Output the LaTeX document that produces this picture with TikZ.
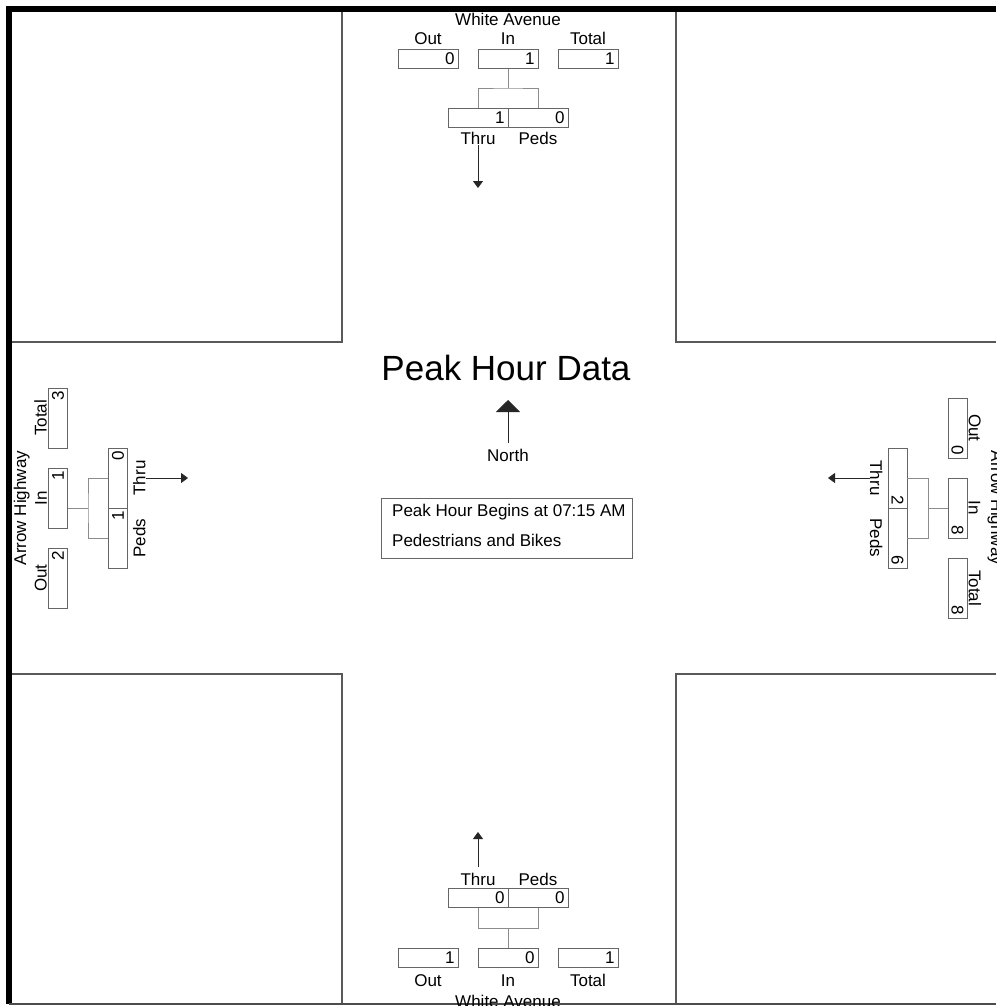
\documentclass[tikz,border=0pt]{standalone}
\usepackage{fontspec}
\setmainfont{Liberation Sans}
\usetikzlibrary{arrows.meta, positioning}
\newcommand{\lblsize}{\fontsize{17}{20}\selectfont}
\tikzset{
  vol/.style={rectangle, draw=black!60, line width=0.9pt, minimum height=19pt,
              text width=53pt, align=right, inner xsep=3.5pt, inner ysep=0pt, font=\lblsize},
  lbl/.style={inner sep=0pt, font=\lblsize},
  wire/.style={draw=black!45, line width=0.9pt},
  dirarrow/.style={-{Triangle[width=10pt,length=7pt]}, line width=0.8pt, draw=black!85},
  quad/.style={draw=black!65, line width=1.3pt},
}

\begin{document}
\begin{tikzpicture}[x=1pt, y=-1pt]
\useasboundingbox[fill=white] (0,0) rectangle (996,1006);

% frame and the four corner blocks
\draw[line width=6pt] (996,9) -- (9,9) -- (9,1004);
\draw[black!70, line width=1.5pt] (9,1004) -- (996,1004);
\draw[quad] (12,342) -- (342,342) -- (342,12);
\draw[quad] (676,12) -- (676,342) -- (996,342);
\draw[quad] (12,674) -- (342,674) -- (342,1003);
\draw[quad] (996,674) -- (676,674) -- (676,1003);

% north approach
\node[lbl] (nName) at (508,19) {White Avenue};
\node[vol] (nOut) at (428,59) {0};
\node[vol] (nIn) at (508,59) {1};
\node[vol] (nTot) at (588,59) {1};
\node[lbl, above=4pt of nOut] (nOutL) {Out};
\node[lbl, above=4pt of nIn] (nInL) {In};
\node[lbl, above=4pt of nTot] (nTotL) {Total};
\node[vol] (nThru) at (478,117.5) {1};
\node[vol] (nPeds) at (538,117.5) {0};
\node[lbl, below=5pt of nThru] (nThruL) {Thru};
\node[lbl, below=5pt of nPeds] (nPedsL) {Peds};
\coordinate (nJ) at (508,88);
\coordinate (nTip) at (478,188);
\draw[wire] (nIn) -- (nJ);
\draw[wire] (nThru.north) |- (nJ) -| (nPeds.north);
\draw[dirarrow] (nThruL) -- (nTip);

% south approach
\node[vol] (sThru) at (478,898) {0};
\node[vol] (sPeds) at (538,898) {0};
\node[lbl, above=2pt of sThru] (sThruL) {Thru};
\node[lbl, above=2pt of sPeds] (sPedsL) {Peds};
\node[vol] (sOut) at (428,957.5) {1};
\node[vol] (sIn) at (508,957.5) {0};
\node[vol] (sTot) at (588,957.5) {1};
\node[lbl, below=7pt of sOut] (sOutL) {Out};
\node[lbl, below=7pt of sIn] (sInL) {In};
\node[lbl, below=7pt of sTot] (sTotL) {Total};
\node[lbl, anchor=base] (sName) at (508,1007) {White Avenue};
\coordinate (sJ) at (508,928);
\coordinate (sTip) at (478,832);
\draw[wire] (sIn) -- (sJ);
\draw[wire] (sThru.south) |- (sJ) -| (sPeds.south);
\draw[dirarrow, shorten <=6pt] (sThruL) -- (sTip);

% west approach
\node[vol, rotate=90] (wTot) at (58,418) {3};
\node[vol, rotate=90] (wIn) at (58,498) {1};
\node[vol, rotate=90] (wOut) at (58,578) {2};
\node[lbl, rotate=90, anchor=south] (wTotL) at ([xshift=-1pt]wTot.north) {Total};
\node[lbl, rotate=90, anchor=south] (wInL) at ([xshift=-1pt]wIn.north) {In};
\node[lbl, rotate=90, anchor=south] (wOutL) at ([xshift=-1pt]wOut.north) {Out};
\node[lbl, rotate=90, anchor=base] (wName) at (26,508) {Arrow Highway};
\node[vol, rotate=90] (wThru) at (118,478) {0};
\node[vol, rotate=90] (wPeds) at (118,538) {1};
\node[lbl, rotate=90, anchor=north] (wThruL) at ([xshift=5pt]wThru.south) {Thru};
\node[lbl, rotate=90, anchor=north] (wPedsL) at ([xshift=5pt]wPeds.south) {Peds};
\coordinate (wJ) at (88,508);
\coordinate (wTip) at (188,478);
\draw[wire] (wJ -| wIn.south) -- (wJ);
\draw[wire] (wThru.north) -| (wJ) |- (wPeds.north);
\draw[dirarrow] (wThruL) -- (wTip);

% east approach
\node[vol, rotate=-90] (eOut) at (957.5,428) {0};
\node[vol, rotate=-90] (eIn) at (957.5,508) {8};
\node[vol, rotate=-90] (eTot) at (957.5,588) {8};
\node[lbl, rotate=-90, anchor=south] (eOutL) at ([xshift=1pt]eOut.north) {Out};
\node[lbl, rotate=-90, anchor=south] (eInL) at ([xshift=1pt]eIn.north) {In};
\node[lbl, rotate=-90, anchor=south] (eTotL) at ([xshift=1pt]eTot.north) {Total};
\node[lbl, rotate=-90, anchor=base] (eName) at (991,508) {Arrow Highway};
\node[vol, rotate=-90] (eThru) at (897.5,478) {2};
\node[vol, rotate=-90] (ePeds) at (897.5,538) {6};
\node[lbl, rotate=-90, anchor=north] (eThruL) at ([xshift=-5pt]eThru.south) {Thru};
\node[lbl, rotate=-90, anchor=north] (ePedsL) at ([xshift=-5pt]ePeds.south) {Peds};
\coordinate (eJ) at (928,508);
\coordinate (eTip) at (828,478);
\draw[wire] (eIn) -- (eJ);
\draw[wire] (eThru.north) -| (eJ) |- (ePeds.north);
\draw[dirarrow] (eThruL) -- (eTip);

% centre
\node[font=\fontsize{35}{40}\selectfont, inner sep=0pt] (title) at (506,368) {Peak Hour Data};
\node[lbl, inner ysep=6pt] (north) at (508,455) {North};
\coordinate (northTip) at (508,400);
\draw[line width=0.8pt, draw=black!85, -{Triangle[width=24pt,length=12pt]}] (north) -- (northTip);
\node[draw=black!60, line width=0.9pt, minimum width=251pt, minimum height=60pt] (info) at (506.5,528) {};
\node[lbl, anchor=base west] (info1) at (392,516) {Peak Hour Begins at 07:15 AM};
\node[lbl, anchor=base west] (info2) at (392,546) {Pedestrians and Bikes};
\end{tikzpicture}
\end{document}
